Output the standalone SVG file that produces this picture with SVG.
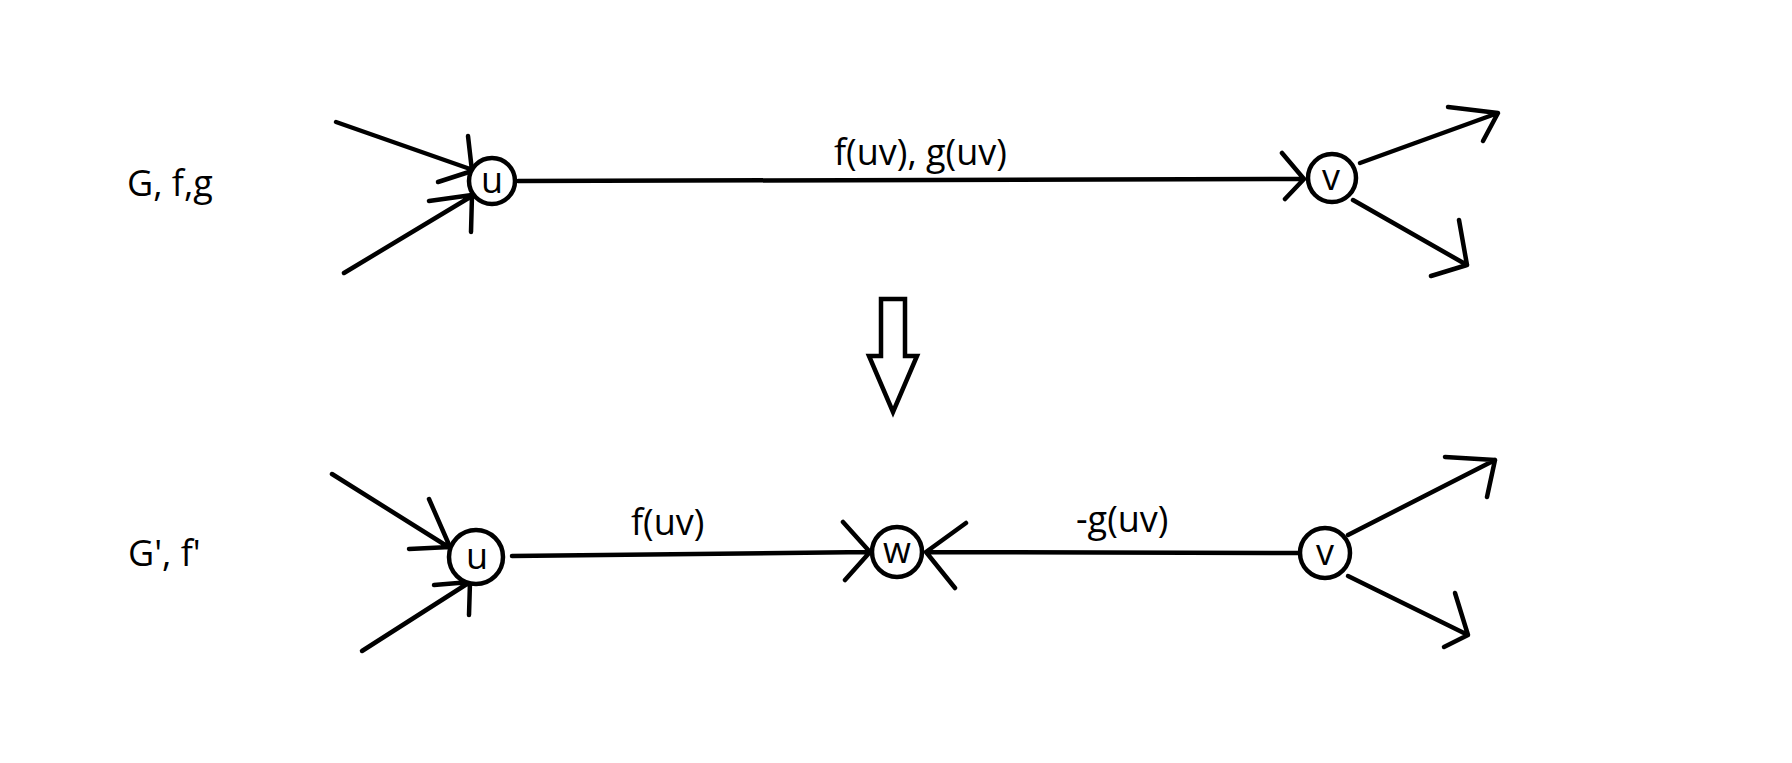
<svg xmlns="http://www.w3.org/2000/svg" width="1792" height="763" viewBox="0 0 1792 763">
<style>
.bg{fill:#ffffff}
.edge{fill:none;stroke:#000;stroke-width:4.5;stroke-linecap:round;stroke-linejoin:round}
.node{fill:#fff;stroke:#000;stroke-width:4.5}
.lbl{font-family:"Open Sans","Liberation Sans",sans-serif;font-size:36px;fill:#000}
.nl{font-family:"Open Sans","Liberation Sans",sans-serif;font-size:36px;fill:#000;text-anchor:middle}
.big{fill:#fff;stroke:#000;stroke-width:4.5;stroke-linejoin:miter}
</style>
<rect class="bg" x="0" y="0" width="1792" height="763"/>
<g id="connectors">
  <!-- top row -->
  <path class="edge" d="M336,122 L473,170 M468,136 L472,171 L438,182"/>
  <path class="edge" d="M344,273 L472,196 M429,201 L472,195 L471,232"/>
  <path class="edge" d="M518,181 L1304,179 M1282,153 L1304,179 L1285,199"/>
  <path class="edge" d="M1360,163 L1498,113 M1448,107 L1498,113 L1483,141"/>
  <path class="edge" d="M1353,200 L1467,265 M1459,220 L1467,265 L1431,276"/>
  <!-- bottom row -->
  <path class="edge" d="M332,474 L450,548 M429,499 L450,547 L409,549"/>
  <path class="edge" d="M362,651 L470,582 M434,585 L470,582 L469,615"/>
  <path class="edge" d="M512,556 L870,552 M843,522 L870,552 L845,580"/>
  <path class="edge" d="M1299,553 L926,552 M966,523 L926,552 L955,588"/>
  <path class="edge" d="M1348,535 L1495,460 M1445,457 L1495,460 L1487,497"/>
  <path class="edge" d="M1348,576 L1468,635 M1455,593 L1468,635 L1444,647"/>
</g>
<g id="edge-labels">
  <text class="lbl" x="834" y="165">f(uv), g(uv)</text>
  <text class="lbl" x="631" y="535">f(uv)</text>
  <text class="lbl" x="1076" y="532">-g(uv)</text>
</g>
<g id="graph-labels">
  <text class="lbl" x="127" y="196">G, f,g</text>
  <text class="lbl" x="128" y="566">G', f'</text>
</g>
<g id="transform-arrow">
  <polygon class="big" points="881,299 905,299 905,356 917,356 893,412 869,356 881,356"/>
</g>
<g id="node-u-top">
  <circle class="node" cx="492" cy="181" r="23"/>
  <text class="nl" x="492" y="193">u</text>
</g>
<g id="node-v-top">
  <circle class="node" cx="1332" cy="178" r="24"/>
  <text class="nl" x="1331" y="190">v</text>
</g>
<g id="node-u-bottom">
  <circle class="node" cx="476" cy="557" r="27"/>
  <text class="nl" x="477" y="569">u</text>
</g>
<g id="node-w">
  <circle class="node" cx="897" cy="552" r="25"/>
  <text class="nl" x="897" y="563">w</text>
</g>
<g id="node-v-bottom">
  <circle class="node" cx="1325" cy="553" r="25"/>
  <text class="nl" x="1325" y="565">v</text>
</g>
</svg>
